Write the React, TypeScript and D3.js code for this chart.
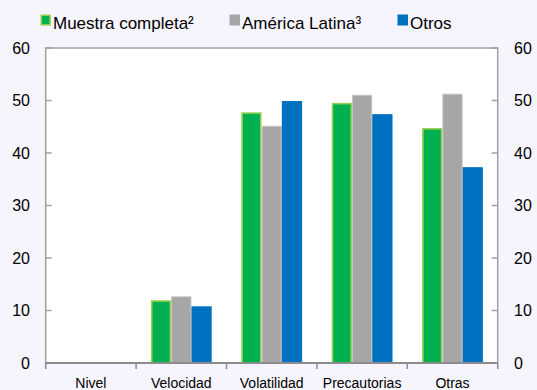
import React from "react";
import * as d3 from "d3";

const categories = ["Nivel", "Velocidad", "Volatilidad", "Precautorias", "Otras"];
const seriesNames = ["Muestra completa²", "América Latina³", "Otros"];
const muestra = [0, 11.8, 47.6, 49.4, 44.6];
const latina = [0, 12.6, 45.1, 51.0, 51.2];
const otros = [0, 10.8, 49.9, 47.4, 37.3];
const yTicks = [0, 10, 20, 30, 40, 50, 60];

const fills = ["#00B050", "#A6A6A6", "#0070C0"];
const strokes = ["#92D050", "#C4C4C4", "none"];

const W = 537, H = 390;
const M = { left: 45.7, right: 497.7, top: 48, bottom: 363 };

export default function App() {
  const data = [muestra, latina, otros];
  const x = d3.scaleBand().domain(categories).range([M.left, M.right]).paddingInner(0).paddingOuter(0);
  const x1 = d3.scaleBand().domain(seriesNames).range([0, x.bandwidth()]).paddingOuter(0.73).paddingInner(0);
  const y = d3.scaleLinear().domain([0, 60]).range([M.bottom, M.top]);
  const font = "Liberation Sans, Arial, sans-serif";
  const legendX = [40.5, 229.5, 397.5];
  return (
    <svg width={W} height={H} style={{ position: "absolute", left: 0, top: 0, background: "#F6F4FC" }}>
      <rect x={0} y={0} width={W} height={H} fill="#F6F4FC" />
      <rect x={M.left} y={M.top} width={M.right - M.left} height={M.bottom - M.top} fill="#FFFFFF" stroke="#A0A0A0" strokeWidth={1.5} />
      {categories.map((c, i) =>
        data.map((arr, s) => {
          const v = arr[i];
          if (v <= 0) return null;
          const bx = (x(c) as number) + (x1(seriesNames[s]) as number);
          const bw = x1.bandwidth();
          const sw = s === 0 ? 1.6 : 1;
          return (
            <rect key={c + s} x={bx + (strokes[s] === "none" ? 0 : sw / 2)} y={y(v)} width={bw - (strokes[s] === "none" ? 0 : sw)} height={y(0) - y(v)}
              fill={fills[s]} stroke={strokes[s]} strokeWidth={sw} />
          );
        })
      )}
      {yTicks.map((t) => (
        <g key={t}>
          <line x1={M.left} x2={M.left + 6} y1={y(t)} y2={y(t)} stroke="#A0A0A0" strokeWidth={1.5} />
          <line x1={M.right - 6} x2={M.right} y1={y(t)} y2={y(t)} stroke="#A0A0A0" strokeWidth={1.5} />
          <text x={30} y={y(t)} dy="0.36em" textAnchor="end" fontSize={16} fontFamily={font} fill="#000">{t}</text>
          <text x={514} y={y(t)} dy="0.36em" textAnchor="start" fontSize={16} fontFamily={font} fill="#000">{t}</text>
        </g>
      ))}
      <line x1={M.left} x2={M.right} y1={M.bottom} y2={M.bottom} stroke="#8C8C8C" strokeWidth={2} />
      {categories.concat([""]).map((c, i) => {
        const xx = M.left + i * x.bandwidth();
        return <line key={"bt" + i} x1={xx} x2={xx} y1={M.bottom} y2={M.bottom + 6} stroke="#8C8C8C" strokeWidth={1.5} />;
      })}
      {categories.map((c) => (
        <text key={"cl" + c} x={(x(c) as number) + x.bandwidth() / 2} y={388} textAnchor="middle" fontSize={14} fontFamily={font} fill="#000">{c}</text>
      ))}
      {seriesNames.map((n, s) => (
        <g key={"lg" + n}>
          <rect x={legendX[s] + (s === 0 ? 0.8 : 0)} y={14.5 + (s === 0 ? 0.8 : 0)} width={s === 0 ? 8.8 : 10.5} height={s === 0 ? 9.5 : 11} fill={fills[s]}
            stroke={s === 0 ? strokes[0] : "none"} strokeWidth={1.6} />
          <text x={legendX[s] + 12.5} y={29} fontSize={17} fontFamily={font} fill="#000">{n}</text>
        </g>
      ))}
    </svg>
  );
}
